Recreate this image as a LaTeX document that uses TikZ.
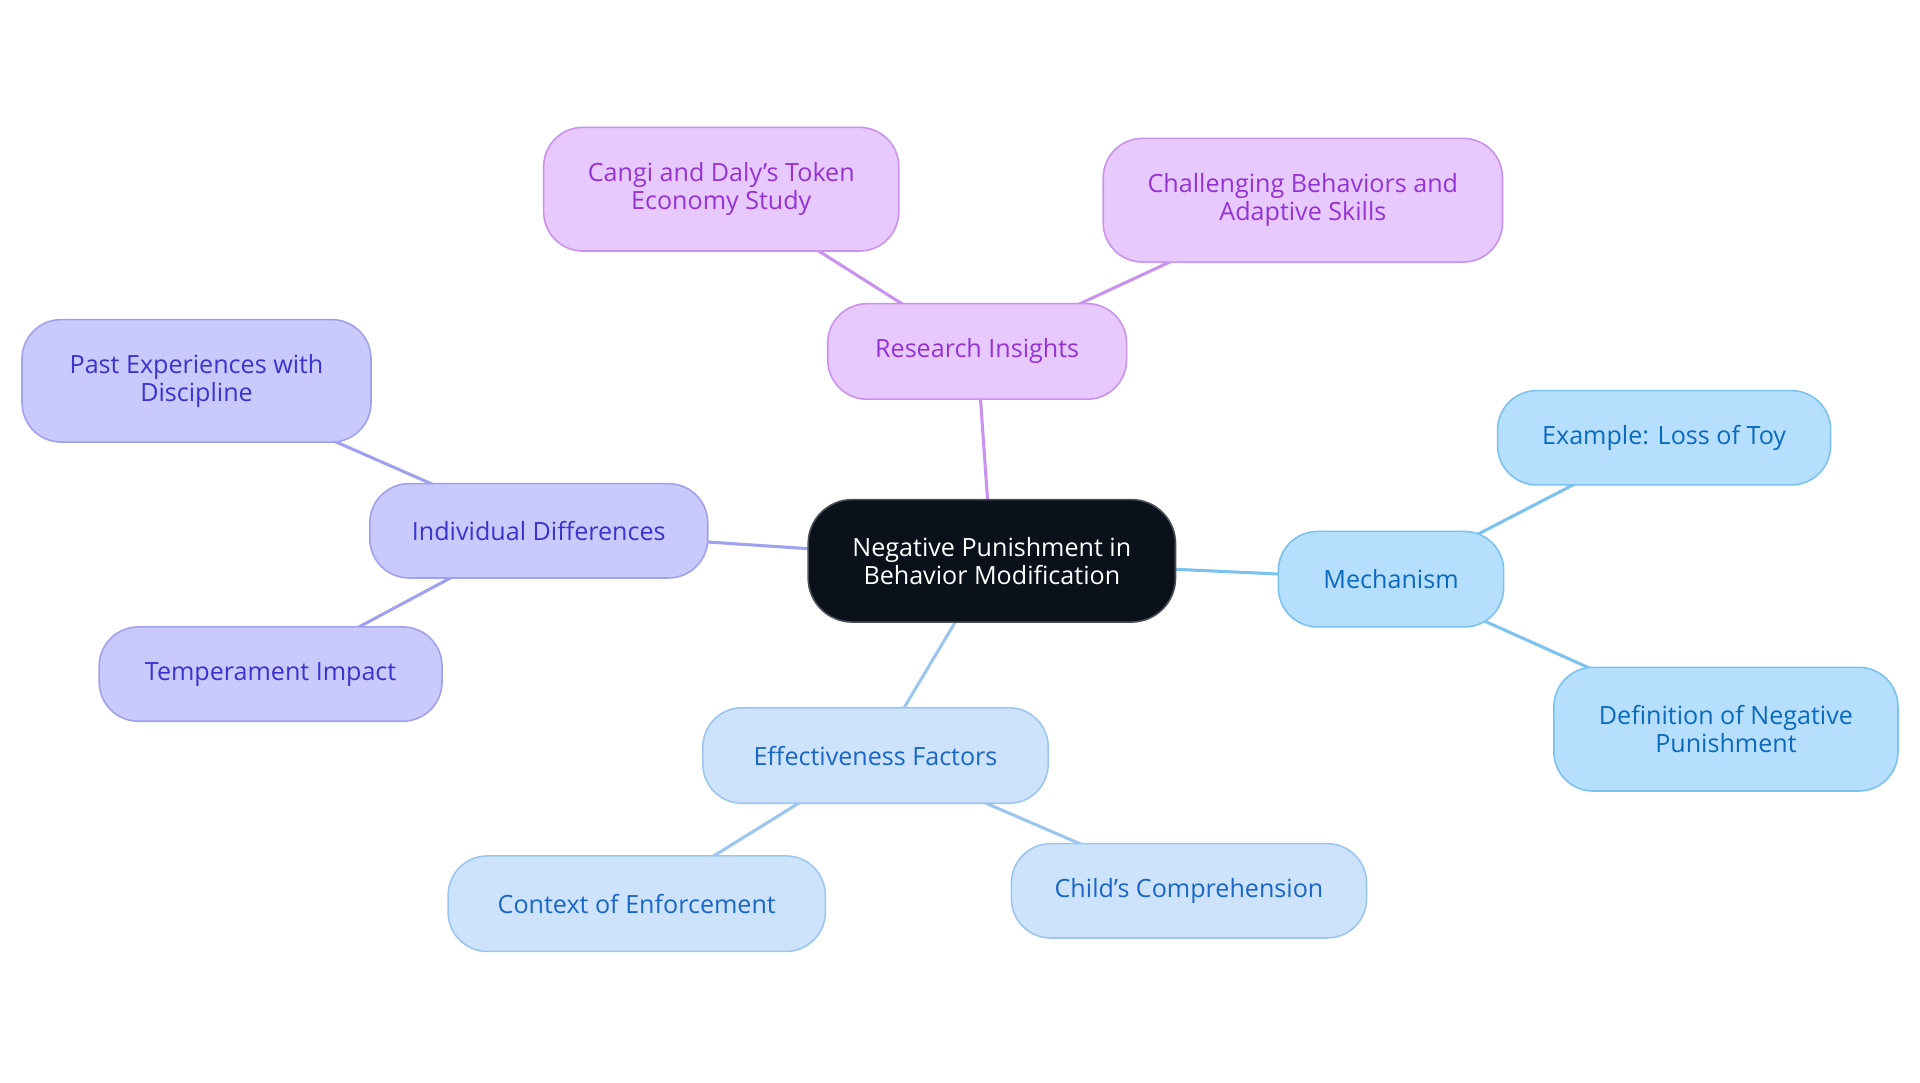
\documentclass[tikz,border=0pt]{standalone}
\usepackage{fontspec}
\setmainfont{Open Sans}
\usetikzlibrary{backgrounds}
\definecolor{cdark}{HTML}{0B111A}
\definecolor{cdarkb}{HTML}{4A4F57}
\definecolor{pfill}{HTML}{E8C9FD}
\definecolor{pline}{HTML}{C992F0}
\definecolor{ptext}{HTML}{9333D6}
\definecolor{ifill}{HTML}{C9C9FC}
\definecolor{iline}{HTML}{A0A0F0}
\definecolor{itext}{HTML}{3A33CF}
\definecolor{mfill}{HTML}{B5DFFD}
\definecolor{mline}{HTML}{7CC2F0}
\definecolor{mtext}{HTML}{0B69C0}
\definecolor{efill}{HTML}{CDE3FB}
\definecolor{eline}{HTML}{9CC6F0}
\definecolor{etext}{HTML}{1A66C8}
\tikzset{
  box/.style={rounded corners=32pt, inner sep=0pt, align=center, line width=1.3pt,
    font=\fontsize{20.5}{23}\selectfont},
  rootbox/.style={box, fill=cdark, draw=cdarkb, text=white, rounded corners=36pt},
  pbox/.style={box, fill=pfill, draw=pline, text=ptext},
  ibox/.style={box, fill=ifill, draw=iline, text=itext},
  mbox/.style={box, fill=mfill, draw=mline, text=mtext},
  ebox/.style={box, fill=efill, draw=eline, text=etext},
  link/.style={line width=2.5pt},
}
\begin{document}
\begin{tikzpicture}[x=1pt,y=-1pt]
\useasboundingbox (0,0) rectangle (1568,884.4);
\node[rootbox, minimum width=300pt, minimum height=100pt] (root) at (810,458) {Negative Punishment in\\Behavior Modification};
\node[pbox, minimum width=244pt, minimum height=78pt] (res) at (798,287) {Research Insights};
\node[pbox, minimum width=290pt, minimum height=101pt] (cangi) at (589,154.5) {Cangi and Daly's Token\\Economy Study};
\node[pbox, minimum width=326pt, minimum height=101pt] (chal) at (1064,163.5) {Challenging Behaviors and\\Adaptive Skills};
\node[ibox, minimum width=276pt, minimum height=77pt] (ind) at (440,433.5) {Individual Differences};
\node[ibox, minimum width=285pt, minimum height=100pt] (past) at (160.5,311) {Past Experiences with\\Discipline};
\node[ibox, minimum width=280pt, minimum height=77pt] (temp) at (221,550.5) {Temperament Impact};
\node[mbox, minimum width=184pt, minimum height=78pt] (mech) at (1136,473) {Mechanism};
\node[mbox, minimum width=272pt, minimum height=77pt] (ex) at (1359,357.5) {Example: Loss of Toy};
\node[mbox, minimum width=281pt, minimum height=101pt] (def) at (1409.5,595.5) {Definition of Negative\\Punishment};
\node[ebox, minimum width=282pt, minimum height=78pt] (eff) at (715,617) {Effectiveness Factors};
\node[ebox, minimum width=308pt, minimum height=78pt] (ctx) at (520,738) {Context of Enforcement};
\node[ebox, minimum width=290pt, minimum height=77pt] (child) at (971,727.5) {Child's Comprehension};
\begin{scope}[on background layer]
\draw[link, pline] (root.center) -- (res.center);
\draw[link, pline] (res.center) -- (cangi.center);
\draw[link, pline] (res.center) -- (chal.center);
\draw[link, iline] (root.center) -- (ind.center);
\draw[link, iline] (ind.center) -- (past.center);
\draw[link, iline] (ind.center) -- (temp.center);
\draw[link, mline] (root.center) -- (mech.center);
\draw[link, mline] (mech.center) -- (ex.center);
\draw[link, mline] (mech.center) -- (def.center);
\draw[link, eline] (root.center) -- (eff.center);
\draw[link, eline] (eff.center) -- (ctx.center);
\draw[link, eline] (eff.center) -- (child.center);
\end{scope}
\end{tikzpicture}
\end{document}
